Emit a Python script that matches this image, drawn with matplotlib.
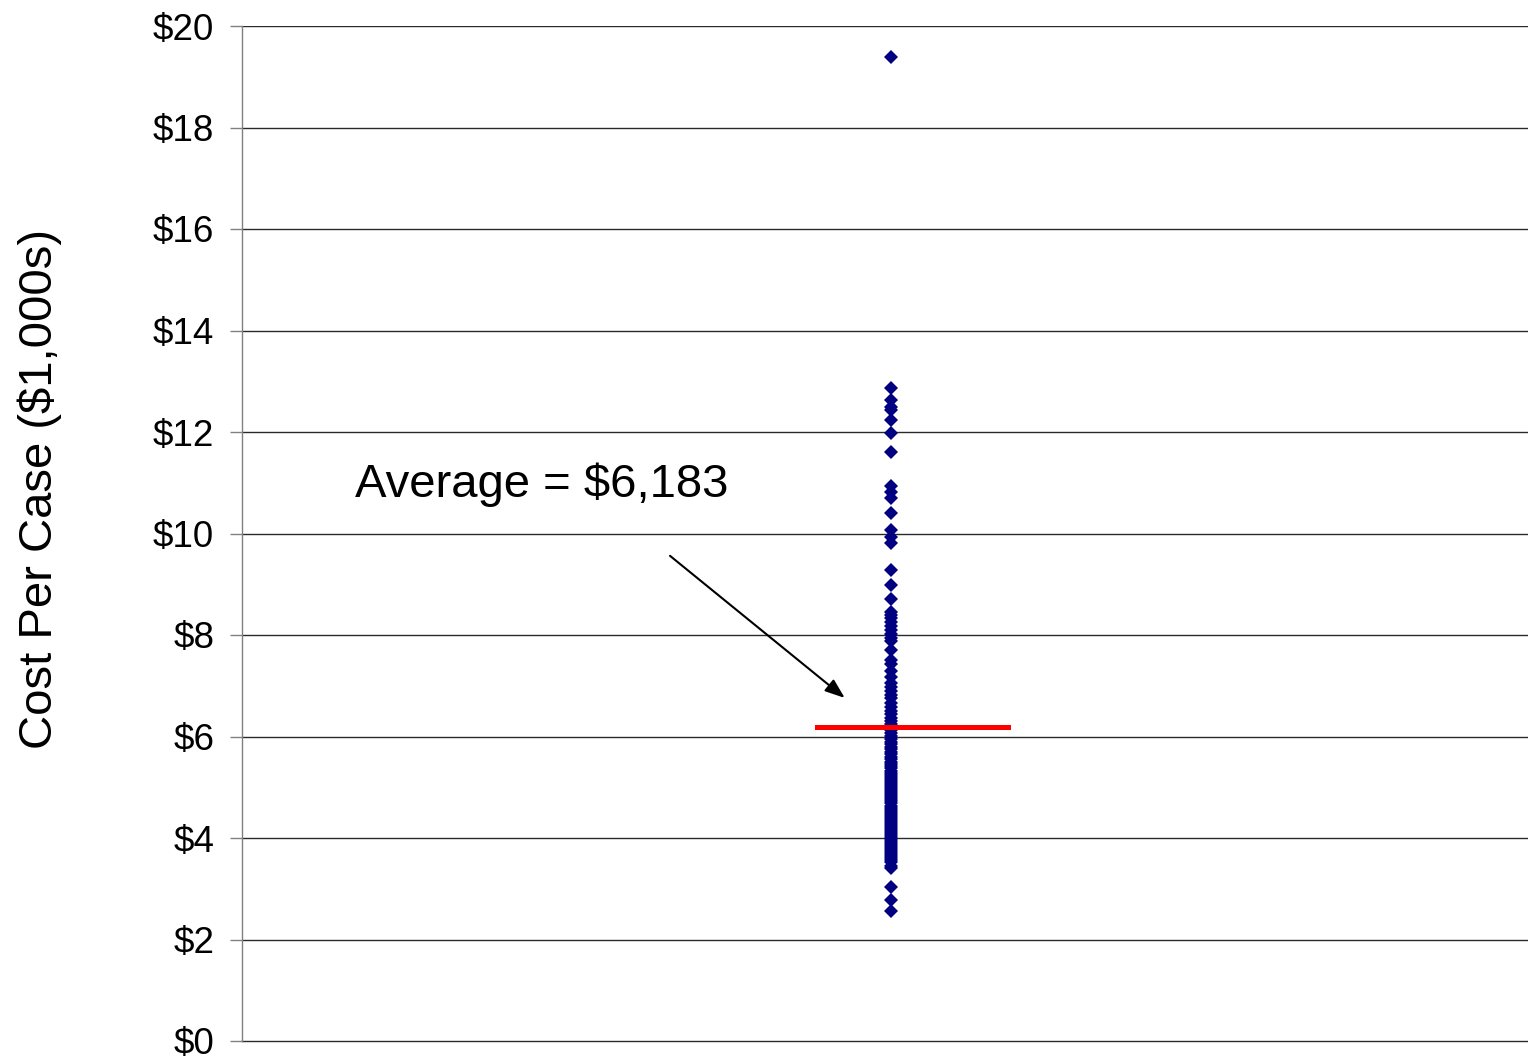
"""Cost per case strip plot with average marker."""

import matplotlib
import matplotlib.pyplot as plt
from matplotlib.ticker import FuncFormatter, MultipleLocator

matplotlib.use("Agg")

# cost per case in $1,000s
COSTS = [
    19.38,
    12.86, 12.63, 12.50, 12.43, 12.24, 11.99, 11.61,
    10.94, 10.82, 10.69, 10.40, 10.07, 9.94, 9.81,
    9.28, 8.99, 8.70,
    8.46, 8.40, 8.34, 8.25, 8.18, 8.10, 8.02, 7.95, 7.88,
    7.70, 7.51, 7.42, 7.30, 7.18, 7.05, 6.97, 6.90, 6.82, 6.75,
    6.66, 6.58, 6.50, 6.44, 6.37, 6.30, 6.24, 6.18, 6.12, 6.06,
    6.01, 5.96, 5.90, 5.85, 5.80, 5.75, 5.70, 5.65, 5.60, 5.55,
    5.50, 5.46, 5.42, 5.38, 5.33, 5.28, 5.24, 5.20, 5.16, 5.12,
    5.08, 5.04, 5.00, 4.96, 4.92, 4.88, 4.84, 4.80, 4.76, 4.72,
    4.68, 4.64, 4.60, 4.56, 4.52, 4.48, 4.44, 4.40, 4.36, 4.32,
    4.28, 4.24, 4.20, 4.16, 4.12, 4.08, 4.04, 4.00, 3.96, 3.92,
    3.88, 3.84, 3.80, 3.76, 3.72, 3.68, 3.64, 3.60, 3.56, 3.52,
    3.45, 3.40,
    3.04, 2.78, 2.57,
]
AVERAGE = 6.183
AVERAGE_LABEL = "Average = $6,183"
Y_LABEL = "Cost Per Case ($1,000s)"

plt.rcParams["font.family"] = ["Liberation Sans", "DejaVu Sans"]

fig = plt.figure(figsize=(15.28, 10.60), dpi=100)
ax = fig.add_axes([242 / 1528, 19 / 1060, 1 - 242 / 1528, (1041 - 26) / 1060])

ax.set_xlim(0, 1.98)
ax.set_ylim(0, 20)

for y in range(2, 21, 2):
    ax.axhline(y, color="#2a2a2a", linewidth=1.0, zorder=1)

ax.plot([1.0] * len(COSTS), COSTS, "D", color="#000080", markersize=6.8,
        markeredgewidth=0, zorder=3, clip_on=False)

ax.plot([0.886, 1.180], [AVERAGE, AVERAGE], color="#ff0000", linewidth=3.6, zorder=4)

ax.text(0.174, 10.96, AVERAGE_LABEL, fontsize=34, ha="left", va="center")
ax.annotate(
    "",
    xy=(0.928, 6.76),
    xytext=(0.659, 9.56),
    arrowprops=dict(arrowstyle="-|>,head_length=1.2,head_width=0.45",
                    color="black", linewidth=1.5, shrinkA=0, shrinkB=0),
)

ax.yaxis.set_major_locator(MultipleLocator(2))
ax.yaxis.set_major_formatter(FuncFormatter(lambda v, _: f"${v:.0f}"))
ax.tick_params(axis="y", labelsize=26.5, length=9, width=1, color="#808080",
               direction="out", pad=11)
ax.set_xticks([])

for side in ("top", "right", "bottom"):
    ax.spines[side].set_visible(False)
ax.spines["left"].set_color("#808080")
ax.spines["left"].set_linewidth(1.0)
ax.axhline(0, color="#2a2a2a", linewidth=1.0, zorder=1, clip_on=False)

fig.text(40 / 1528, 1 - 489 / 1060, Y_LABEL, fontsize=34, rotation=90,
         ha="center", va="center")

fig.savefig("out.png", dpi=100)
